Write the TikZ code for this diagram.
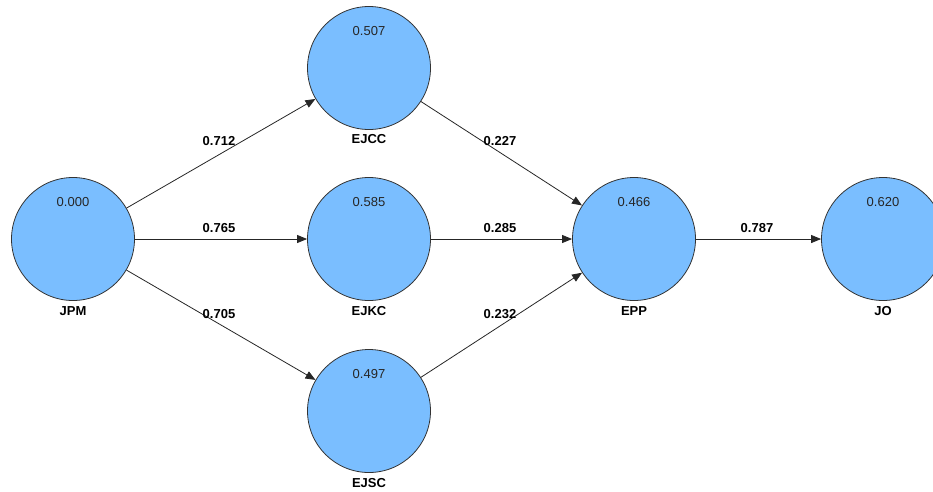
\documentclass[tikz,border=0pt]{standalone}
\usepackage{fontspec}
\setmainfont{Liberation Sans}
\usetikzlibrary{arrows.meta}
\definecolor{lvblue}{RGB}{122,190,255}
\begin{document}
\begin{tikzpicture}[x=1pt,y=-1pt]
      \tikzstyle{every node}+=[inner sep=0pt]
      \tikzstyle{latent}=[circle, draw=black!80, fill=lvblue, minimum size=123pt, line width=0.8pt]
      \tikzstyle{rsq}=[font=\fontsize{13}{13}\selectfont, text=black!85]
      \tikzstyle{lvname}=[font=\fontsize{13}{13}\selectfont\bfseries]
      \tikzstyle{coef}=[font=\fontsize{13}{13}\selectfont\bfseries]
      \tikzstyle{path}=[draw=black!85, line width=0.8pt, -{Triangle[length=10pt,width=8pt]}]
      \useasboundingbox (0,0) rectangle (933,491);
      \node [latent] (JPM) at (73,239) {};
      \node [rsq] (JPMr) at (73,202) {0.000};
      \node [lvname] (JPMn) at (73,311) {JPM};
      \node [latent] (EJCC) at (369,68) {};
      \node [rsq] (EJCCr) at (369,31) {0.507};
      \node [lvname] (EJCCn) at (369,139) {EJCC};
      \node [latent] (EJKC) at (369,239) {};
      \node [rsq] (EJKCr) at (369,202) {0.585};
      \node [lvname] (EJKCn) at (369,311) {EJKC};
      \node [latent] (EJSC) at (369,411) {};
      \node [rsq] (EJSCr) at (369,374) {0.497};
      \node [lvname] (EJSCn) at (369,483) {EJSC};
      \node [latent] (EPP) at (634,239) {};
      \node [rsq] (EPPr) at (634,202) {0.466};
      \node [lvname] (EPPn) at (634,311) {EPP};
      \node [latent] (JO) at (883,239) {};
      \node [rsq] (JOr) at (883,202) {0.620};
      \node [lvname] (JOn) at (883,311) {JO};
      % paths
      \draw [path] (JPM) -- (EJCC);
      \draw [path] (JPM) -- (EJKC);
      \draw [path] (JPM) -- (EJSC);
      \draw [path] (EJCC) -- (EPP);
      \draw [path] (EJKC) -- (EPP);
      \draw [path] (EJSC) -- (EPP);
      \draw [path] (EPP) -- (JO);
      \node [coef] (c1) at (219,141) {0.712};
      \node [coef] (c2) at (219,228) {0.765};
      \node [coef] (c3) at (219,314) {0.705};
      \node [coef] (c4) at (500,141) {0.227};
      \node [coef] (c5) at (500,228) {0.285};
      \node [coef] (c6) at (500,314) {0.232};
      \node [coef] (c7) at (757,228) {0.787};
\end{tikzpicture}
\end{document}
